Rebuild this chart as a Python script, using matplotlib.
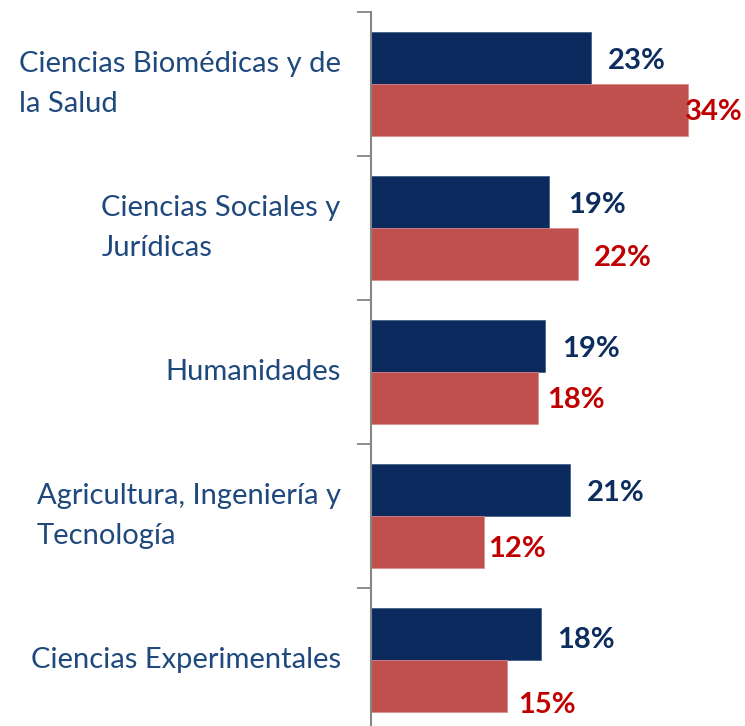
import matplotlib
matplotlib.use("Agg")
import matplotlib.pyplot as plt
import numpy as np

categories = ["Ciencias Biomédicas y de\nla Salud",
              "Ciencias Sociales y\nJurídicas",
              "Humanidades",
              "Agricultura, Ingeniería y\nTecnología",
              "Ciencias Experimentales"]
series_a = [23.45, 18.99, 18.52, 21.18, 18.07]   # navy
series_b = [33.76, 22.07, 17.85, 12.04, 14.53]   # red
labels_a = ["23%", "19%", "19%", "21%", "18%"]
labels_b = ["34%", "22%", "18%", "12%", "15%"]

# label offsets in pixels (dx from bar end, dy downward)
off_a = [(17, 0), (19, 0), (17, 0), (17, 0), (17, 3)]
off_b = [(-3, 0), (16, 2), (9, 0), (4, 5), (11, 17)]

NAVY = "#0B2B5F"
RED = "#C0504D"
NAVY_TXT = "#0D2D5F"
RED_TXT = "#C00000"
CAT_TXT = "#1F497D"
GRAY = "#868686"

W, H = 745, 726
fig = plt.figure(figsize=(W / 100, H / 100), dpi=100)
ax_left = 370.5 / W
ax_top = 1 - 12 / H
ax_h = 720 / H
ax = fig.add_axes([ax_left, ax_top - ax_h, 1 - ax_left, ax_h])

y = np.arange(len(categories))
bh = 0.361
ax.barh(y - bh / 2, series_a, height=bh, color=NAVY, edgecolor="#3A5580", linewidth=0.5)
ax.barh(y + bh / 2, series_b, height=bh, color=RED, edgecolor="#D88A88", linewidth=0.5)

ax.set_xlim(0, (W - 370.5) / 9.41)
ax.set_ylim(len(categories) - 0.5, -0.5)

vfont = dict(family="Lato", fontsize=21, fontweight="bold")
for i in range(len(categories)):
    dx, dy = off_a[i]
    ax.annotate(labels_a[i], xy=(series_a[i], y[i] - bh / 2), xytext=(dx, -dy),
                textcoords="offset pixels", ha="left", va="center_baseline",
                color=NAVY_TXT, annotation_clip=False, **vfont)
    dx, dy = off_b[i]
    ax.annotate(labels_b[i], xy=(series_b[i], y[i] + bh / 2), xytext=(dx, -dy),
                textcoords="offset pixels", ha="left", va="center_baseline",
                color=RED_TXT, annotation_clip=False, **vfont)

# ticks at group boundaries, labels at centres
ax.set_yticks(np.arange(-0.5, len(categories) + 0.5, 1.0))
ax.set_yticklabels([])
ax.set_yticks(y, minor=True)
ax.set_yticklabels(categories, minor=True, family="Lato", fontsize=21,
                   color=CAT_TXT, multialignment="left", linespacing=1.7,
                   va="center")
ax.tick_params(axis="y", which="major", length=10, width=1.3, color=GRAY, direction="out")
ax.tick_params(axis="y", which="minor", length=0, pad=21.5)
ax.set_xticks([])

for s in ["top", "right", "bottom"]:
    ax.spines[s].set_visible(False)
ax.spines["left"].set_color(GRAY)
ax.spines["left"].set_linewidth(1.5)

fig.savefig("out.png", dpi=100)
